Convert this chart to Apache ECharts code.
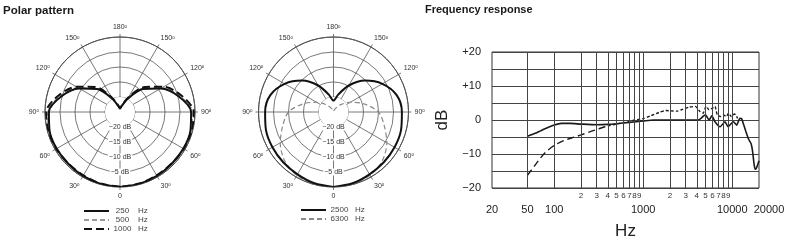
<!DOCTYPE html>
<html><head><meta charset="utf-8">
<script src="https://cdn.jsdelivr.net/npm/echarts@6/dist/echarts.min.js"></script>
<style>html,body{margin:0;padding:0;background:#fff}#c{width:800px;height:248px}</style>
</head><body><div id="c"></div>
<script>
// ---- Polar pattern data (dB vs angle in degrees) ----
const angles = [0,15,30,45,60,75,90,105,120,135,150,165,180,195,210,225,240,255,270,285,300,315,330,345,360];
const db250  = [0,-0.2,-0.4,-0.6,-0.6,-0.7,-1.3,-4.8,-9.3,-14.2,-20,-23,-23.8,-23,-20,-14.2,-9.3,-4.8,-1.3,-0.7,-0.6,-0.6,-0.4,-0.2,0];
const db500  = [0,-0.2,-0.4,-0.5,-0.5,-0.5,-0.9,-4.4,-8.9,-13.8,-19.6,-22.9,-23.8,-22.9,-19.6,-13.8,-8.9,-4.4,-0.9,-0.5,-0.5,-0.5,-0.4,-0.2,0];
const db1000 = [-0.1,-0.3,-0.6,-0.7,-0.5,-0.3,-0.4,-3.8,-8.2,-13.2,-19.2,-22.8,-23.8,-22.8,-19.2,-13.2,-8.2,-3.8,-0.4,-0.3,-0.5,-0.7,-0.6,-0.3,-0.1];
const db2500 = [0,-0.4,-1.0,-1.3,-1.5,-1.7,-2.2,-3.2,-6.2,-10.2,-14.8,-19,-21.2,-19,-14.8,-10.2,-6.2,-3.2,-2.2,-1.7,-1.5,-1.3,-1.0,-0.4,0];
const db6300 = [0,-0.2,-0.6,-2.0,-4.5,-7.5,-10,-14.5,-18.5,-21.5,-23.5,-24.5,-24.8,-24.5,-23.5,-21.5,-18.5,-14.5,-10,-7.5,-4.5,-2.0,-0.6,-0.2,0];
const polarNames1 = ['250 Hz','500 Hz','1000 Hz'];
const polarNames2 = ['2500 Hz','6300 Hz'];
const ringLabels = [-5,-10,-15,-20];

// ---- Frequency response data ----
const solidFreq = [50,60,70,80,100,120,150,200,300,400,500,700,1000,1300,2000,3000,4000,4300,5000,5500,5900,6400,7300,8300,9000,10300,11200,12200,12800,13500,14300,15200,16300,17000,17600,18100,18800,20000];
const solidDb   = [-4.8,-4.0,-3.2,-2.5,-1.5,-1.0,-1.0,-1.2,-1.4,-1.3,-1.1,-0.7,-0.3,0,0,0,0,0.2,1.5,0,1.2,-0.5,-2.0,-0.5,-2.0,-0.5,-1.5,0.5,0.3,-1.5,-3.5,-5.5,-7.0,-9.5,-13,-14.5,-14,-12];
const dashLowFreq = [50,60,70,80,100,130,170,200,250,300,350,400];
const dashLowDb   = [-16.3,-13.5,-11.2,-9.5,-7.5,-6.0,-5.0,-4.4,-3.5,-2.8,-2.2,-1.7];
const dashHighFreq = [400,500,600,700,800,1000,1200,1500,1800,2000,2400,2800,3300,3850,4300,4700,5100,5500,6000,6400,6800,7500,8000,8600,9100,9800,10600,11500];
const dashHighDb   = [-1.7,-1.2,-0.8,-0.4,0,0.4,1.2,2.2,2.8,2.7,2.6,3.2,3.8,4.0,2.6,2.0,4.0,3.0,3.5,4.0,1.5,1.0,1.5,1.0,2.0,1.0,1.8,0.5];
const gridFreqs = [50,100,200,300,400,500,600,700,800,900,1000,2000,3000,4000,5000,6000,7000,8000,9000,10000];
const majorTicks = [20,50,100,1000,10000,20000];
const minorTicks = [200,300,400,500,600,700,800,900,2000,3000,4000,5000,6000,7000,8000,9000];
const minorLabels = ['2','3','4','5','6','7','8','9','2','3','4','5','6','7','8','9'];
const yTickLabels = {'20':'+20','10':'+10','0':'0','-10':'\u221210','-20':'\u221220'};

const FONT = 'Liberation Sans';
const zip = (a, b) => a.map((v, i) => [v, b[i]]);
const polarData = (db) => angles.map((a, i) => [db[i], a]);

function angleAxisCfg(idx) {
  return {
    polarIndex: idx, type: 'value', min: 0, max: 360, interval: 30,
    startAngle: -90, clockwise: true, z: 0,
    axisLine: { lineStyle: { color: '#444', width: 1 } },
    axisTick: { show: true, length: 3, lineStyle: { color: '#555', width: 0.8 } },
    splitLine: { show: true, lineStyle: { color: '#555', width: 0.8 } },
    axisLabel: {
      margin: 6, color: '#333', fontSize: 7, fontFamily: FONT,
      formatter: v => { const d = v > 180 ? 360 - v : v; return d === 0 ? '{n|0}' : '{n|' + d + '}{d|o}'; },
      rich: { n: { fontSize: 7, color: '#333', fontFamily: FONT }, d: { fontSize: 4.5, color: '#333', verticalAlign: 'top', fontFamily: FONT } }
    }
  };
}
function radiusAxisCfg(idx) {
  return {
    polarIndex: idx, type: 'value', min: -25, max: 0, interval: 5, z: 1,
    axisLine: { show: false }, axisTick: { show: false },
    splitLine: { show: true, lineStyle: { color: '#555', width: 0.8 } },
    splitArea: { show: true, areaStyle: { color: ['#fff', 'rgba(0,0,0,0)', 'rgba(0,0,0,0)', 'rgba(0,0,0,0)', 'rgba(0,0,0,0)'] } },
    axisLabel: {
      margin: 0, align: 'center', verticalAlign: 'middle', color: '#333', fontSize: 7, fontFamily: FONT,
      backgroundColor: '#fff', padding: [0, 1, 0, 1],
      formatter: v => ringLabels.indexOf(v) >= 0 ? '\u2212' + (-v) + ' dB' : ''
    }
  };
}
function legendCfg(names, left, top) {
  return {
    data: names, orient: 'vertical', left: left, top: top, itemWidth: 25, itemHeight: 6, itemGap: 1,
    selectedMode: false, padding: 0,
    itemStyle: { opacity: 0 },
    formatter: name => { const p = name.split(' '); return '{n|' + p[0] + '}{u|' + p[1] + '}'; },
    textStyle: { fontSize: 8, color: '#444', lineHeight: 7, fontFamily: FONT,
      rich: { n: { width: 17, align: 'right', fontSize: 8, lineHeight: 7, color: '#444', fontFamily: FONT },
              u: { padding: [0, 0, 0, 7], fontSize: 8, lineHeight: 7, color: '#444', fontFamily: FONT } } }
  };
}

// vertical grid lines + the tick labels that the log axis does not produce itself
const mlData = gridFreqs.map(f => {
  const item = { xAxis: f };
  const mi = majorTicks.indexOf(f), ni = minorTicks.indexOf(f);
  if (mi >= 0 && f === 50) {
    item.label = { show: true, position: 'start', distance: 16, formatter: String(f), fontSize: 11, color: '#222', fontFamily: FONT };
  } else if (ni >= 0) {
    item.label = { show: true, position: 'start', distance: 4, formatter: minorLabels[ni], fontSize: 8, color: '#333', fontFamily: FONT };
  } else {
    item.label = { show: false };
  }
  return item;
});

const option = {
  animation: false,
  textStyle: { fontFamily: FONT },
  title: [
    { text: 'Polar pattern', left: 3, top: 5, padding: 0, textStyle: { fontSize: 11.5, fontWeight: 'bold', color: '#1a1a1a', fontFamily: FONT } },
    { text: 'Frequency response', left: 425, top: 4, padding: 0, textStyle: { fontSize: 11, fontWeight: 'bold', color: '#1a1a1a', fontFamily: FONT } }
  ],
  legend: [legendCfg(polarNames1, 83, 207), legendCfg(polarNames2, 300, 206)],
  polar: [{ center: [120, 112], radius: 75 }, { center: [333.5, 112], radius: 75 }],
  angleAxis: [angleAxisCfg(0), angleAxisCfg(1)],
  radiusAxis: [radiusAxisCfg(0), radiusAxisCfg(1)],
  grid: [{ left: 492, top: 52, width: 267, height: 136, show: true, borderColor: '#333', borderWidth: 1, backgroundColor: 'transparent' }],
  xAxis: [{
    type: 'log', logBase: 10, min: 20, max: 20000,
    axisLine: { show: false }, axisTick: { show: false }, splitLine: { show: false },
    axisLabel: { show: true, margin: 16, fontSize: 11, color: '#222', fontFamily: FONT,
      formatter: v => majorTicks.indexOf(v) < 0 ? '' : (v === 20000 ? '{r|' + v + '}' : String(v)),
      rich: { r: { fontSize: 11, color: '#222', fontFamily: FONT, padding: [0, 0, 0, 20] } } },
    name: 'Hz', nameLocation: 'middle', nameGap: 35, nameTextStyle: { fontSize: 17, color: '#222', fontFamily: FONT }
  }],
  yAxis: [{
    type: 'value', min: -20, max: 20, interval: 5,
    axisLine: { show: false }, axisTick: { show: false },
    splitLine: { lineStyle: { color: '#444', width: 1 } },
    axisLabel: { margin: 11, fontSize: 11, color: '#222', fontFamily: FONT, formatter: v => yTickLabels[String(v)] || '' },
    name: 'dB', nameLocation: 'middle', nameGap: 41, nameRotate: 90, nameTextStyle: { fontSize: 17, color: '#222', fontFamily: FONT }
  }],
  series: [
    { name: '250 Hz', type: 'line', coordinateSystem: 'polar', polarIndex: 0, data: polarData(db250), symbol: 'none', smooth: 0.3, z: 4,
      lineStyle: { color: '#111', width: 2 }, itemStyle: { color: '#111' } },
    { name: '500 Hz', type: 'line', coordinateSystem: 'polar', polarIndex: 0, data: polarData(db500), symbol: 'none', smooth: 0.3, z: 3,
      lineStyle: { color: '#9a9a9a', width: 1.5, type: [5, 3] }, itemStyle: { color: '#9a9a9a' } },
    { name: '1000 Hz', type: 'line', coordinateSystem: 'polar', polarIndex: 0, data: polarData(db1000), symbol: 'none', smooth: 0.3, z: 3,
      lineStyle: { color: '#111', width: 2, type: [8, 4] }, itemStyle: { color: '#111' } },
    { name: '2500 Hz', type: 'line', coordinateSystem: 'polar', polarIndex: 1, data: polarData(db2500), symbol: 'none', smooth: 0.3, z: 4,
      lineStyle: { color: '#111', width: 2 }, itemStyle: { color: '#111' } },
    { name: '6300 Hz', type: 'line', coordinateSystem: 'polar', polarIndex: 1, data: polarData(db6300), symbol: 'none', smooth: 0.3, z: 3,
      lineStyle: { color: '#8a8a8a', width: 1.2, type: [5, 3] }, itemStyle: { color: '#8a8a8a' } },
    { name: 'response', type: 'line', xAxisIndex: 0, yAxisIndex: 0, data: zip(solidFreq, solidDb), symbol: 'none', smooth: 0.2, z: 4,
      lineStyle: { color: '#1a1a1a', width: 1.6 },
      markLine: { silent: true, symbol: ['none', 'none'], animation: false, lineStyle: { color: '#444', width: 1, type: 'solid' }, data: mlData } },
    { name: 'response low', type: 'line', xAxisIndex: 0, yAxisIndex: 0, data: zip(dashLowFreq, dashLowDb), symbol: 'none', smooth: 0.3, z: 3,
      lineStyle: { color: '#1a1a1a', width: 1.4, type: [7, 4] } },
    { name: 'response high', type: 'line', xAxisIndex: 0, yAxisIndex: 0, data: zip(dashHighFreq, dashHighDb), symbol: 'none', smooth: 0.2, z: 3,
      lineStyle: { color: '#1a1a1a', width: 1.4, type: [3, 2] } }
  ]
};
const chart = echarts.init(document.getElementById('c'), null, { renderer: 'canvas' });
chart.setOption(option);
</script></body></html>
